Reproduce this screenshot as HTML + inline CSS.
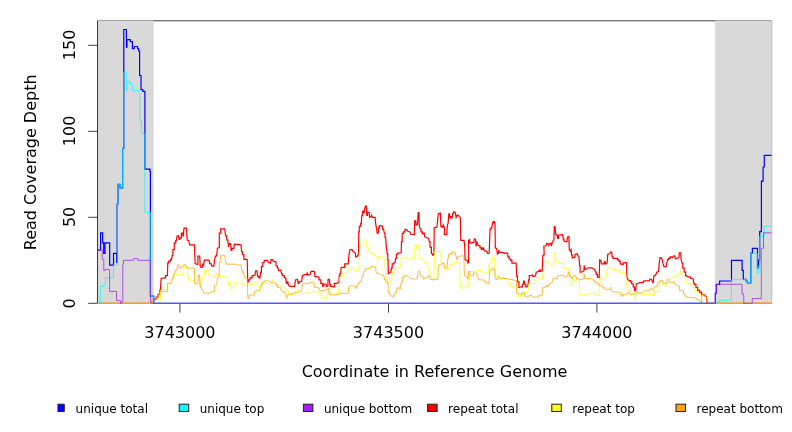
<!DOCTYPE html>
<html><head><meta charset="utf-8"><title>Read Coverage</title>
<style>
html,body{margin:0;padding:0;background:#fff;}
svg{display:block;}
text{font-family:"DejaVu Sans","Liberation Sans",sans-serif;fill:#000;}
.ax{font-size:16px;}
.lg{font-size:12px;}
.ln{fill:none;stroke-linejoin:miter;stroke-linecap:butt;}
</style></head><body>
<svg width="792" height="432" viewBox="0 0 792 432">
<rect x="0" y="0" width="792" height="432" fill="#fff"/>
<defs><clipPath id="cp"><rect x="97" y="20" width="675" height="284"/></clipPath></defs>
<!-- box top/right (grey) -->
<path d="M97.5,20.8 H771.6 V303.3" fill="none" stroke="#000" stroke-width="0.75"/>
<!-- grey flanking regions -->
<rect x="97.5" y="20.55" width="56.1" height="282.75" fill="#d9d9d9"/>
<rect x="715.1" y="20.55" width="56.75" height="282.75" fill="#d9d9d9"/>
<!-- axes -->
<g stroke="#000" stroke-width="0.75" fill="none">
<path d="M97.5,303.3 V20.8"/>
<path d="M97.5,303.3 H88.2 M97.5,217.3 H88.2 M97.5,131.3 H88.2 M97.5,45.3 H88.2"/>
</g>
<g stroke="#000" stroke-width="0.75" fill="none">
<path d="M179.9,303.3 V312.6 M388.5,303.3 V312.6 M596.9,303.3 V312.6"/>
</g>
<g clip-path="url(#cp)">
<path class="ln" d="M97.5,303.3 L153.5,303.2 L153.5,300.0 L155.6,299.3 L156.2,299.3 L156.2,297.2 L156.9,297.2 L158.0,297.2 L158.0,294.4 L159.0,294.4 L159.7,294.4 L159.7,290.3 L160.4,290.3 L161.1,278.5 L163.9,277.8 L165.6,277.8 L165.6,275.7 L167.4,275.7 L167.8,263.2 L167.8,262.9 L168.7,262.9 L168.7,261.2 L170.6,261.2 L170.6,259.4 L171.5,259.4 L172.2,255.3 L172.9,255.3 L172.9,249.7 L173.6,249.7 L174.3,249.7 L174.3,242.8 L175.0,242.8 L175.7,242.8 L175.7,240.7 L176.4,240.7 L177.1,235.8 L178.5,235.8 L179.2,239.3 L179.9,239.3 L179.9,237.9 L180.6,237.9 L181.4,237.9 L181.4,233.1 L182.2,233.1 L182.8,233.1 L182.8,235.8 L183.3,235.8 L184.0,228.2 L186.4,228.2 L187.2,240.0 L188.9,240.7 L189.6,244.9 L194.4,244.9 L195.1,263.6 L197.2,264.3 L197.9,264.3 L197.9,256.0 L198.6,256.0 L199.7,256.0 L200.3,267.1 L202.1,267.5 L202.8,263.6 L203.5,265.7 L204.4,260.1 L209.0,260.1 L209.7,263.6 L211.1,263.6 L211.8,266.1 L213.9,266.1 L214.6,259.4 L215.3,256.7 L216.0,256.7 L216.0,255.3 L216.7,255.3 L217.4,248.3 L218.8,247.6 L219.3,247.6 L219.3,233.1 L219.9,233.1 L220.7,233.1 L220.7,228.9 L221.5,228.9 L224.7,228.9 L225.7,235.8 L226.7,235.8 L226.7,240.0 L227.8,240.0 L228.5,246.9 L229.4,243.5 L230.6,243.5 L231.2,250.4 L231.9,250.4 L231.9,248.3 L232.6,248.3 L233.8,248.3 L234.4,244.2 L241.0,244.9 L241.7,251.8 L242.5,251.8 L242.5,254.6 L243.3,254.6 L243.9,254.6 L243.9,259.4 L244.4,259.4 L247.2,259.4 L247.6,275.0 L247.6,281.9 L248.5,281.9 L248.5,279.9 L249.3,279.9 L250.0,279.9 L250.0,277.8 L250.7,277.8 L252.1,277.8 L252.1,275.7 L253.5,275.7 L254.9,275.0 L255.8,270.8 L256.9,270.8 L257.6,276.4 L258.8,276.4 L258.8,277.8 L260.0,277.8 L260.7,272.2 L261.4,272.2 L261.4,266.7 L262.1,266.7 L262.8,266.7 L262.8,262.5 L263.5,262.5 L264.2,262.5 L264.2,260.4 L264.9,260.4 L267.6,260.4 L268.3,262.5 L270.4,263.2 L271.1,259.7 L272.5,259.7 L273.2,261.1 L275.3,261.8 L276.0,261.8 L276.0,266.0 L276.7,266.0 L277.4,266.0 L277.4,268.1 L278.1,268.1 L278.8,270.8 L280.8,270.1 L281.5,273.6 L282.2,273.6 L282.2,275.7 L282.9,275.7 L284.3,275.7 L284.3,277.8 L285.7,277.8 L286.4,283.3 L287.1,283.3 L287.1,281.9 L287.8,281.9 L288.5,285.4 L289.9,286.4 L294.7,286.4 L295.4,279.9 L297.5,279.4 L298.2,283.3 L298.9,283.3 L298.9,281.9 L299.6,281.9 L301.7,281.2 L302.4,275.7 L304.4,274.7 L306.5,274.7 L307.2,272.9 L307.9,275.0 L310.0,274.7 L310.7,271.9 L312.1,271.1 L314.4,271.5 L314.9,276.4 L318.3,277.1 L319.0,277.1 L319.0,279.9 L319.7,279.9 L320.8,279.9 L320.8,283.3 L321.8,283.3 L322.5,283.3 L322.5,286.1 L323.2,286.1 L323.9,286.1 L323.9,284.0 L324.6,284.0 L326.0,284.0 L326.7,286.4 L327.8,286.1 L328.1,279.4 L329.4,279.4 L329.9,284.7 L330.7,284.7 L330.7,286.4 L331.5,286.4 L333.6,286.8 L334.3,286.8 L334.3,283.3 L335.0,283.3 L337.1,283.3 L337.8,282.6 L338.9,282.6 L339.2,275.7 L339.9,275.7 L339.9,273.6 L340.6,273.6 L341.2,267.4 L344.0,267.4 L344.7,267.4 L344.7,263.9 L345.4,263.9 L348.2,263.9 L348.9,255.6 L349.2,252.8 L350.1,249.7 L352.2,249.7 L352.9,251.4 L354.3,252.1 L355.3,253.5 L355.7,256.9 L357.1,256.2 L357.8,256.2 L357.8,254.9 L358.5,254.9 L358.8,231.9 L359.3,231.9 L359.3,226.4 L359.9,226.4 L360.6,226.4 L360.6,223.6 L361.2,223.6 L361.9,215.3 L362.6,215.3 L362.6,211.1 L363.3,211.1 L364.0,213.2 L364.7,208.3 L365.4,206.2 L366.4,206.2 L366.8,215.3 L367.5,215.3 L367.5,212.5 L368.2,212.5 L369.2,212.5 L369.6,217.4 L371.0,216.7 L371.7,215.3 L372.4,217.4 L375.1,217.4 L375.8,225.0 L376.5,227.8 L377.2,233.3 L378.3,233.1 L378.6,227.8 L379.4,227.8 L379.4,225.7 L380.3,225.7 L381.7,226.1 L382.6,226.1 L382.6,229.2 L383.5,229.2 L384.4,233.3 L385.0,233.3 L385.0,237.5 L385.6,237.5 L386.2,245.8 L387.2,254.2 L387.8,254.2 L387.8,260.0 L388.3,260.0 L388.1,261.1 L388.3,273.6 L389.4,272.9 L390.8,272.2 L391.5,268.1 L392.2,268.1 L392.2,263.9 L392.9,263.9 L394.0,263.9 L394.0,262.5 L395.0,262.5 L395.7,258.3 L396.4,258.3 L396.4,254.2 L397.1,254.2 L397.8,254.2 L397.8,253.1 L398.5,253.1 L401.2,252.8 L401.5,241.7 L402.2,241.7 L402.2,233.3 L402.9,233.3 L403.6,233.3 L403.6,231.9 L404.3,231.9 L405.0,231.9 L405.0,229.4 L405.7,229.4 L407.1,229.9 L407.8,231.2 L409.9,231.9 L410.6,234.0 L413.3,234.7 L414.3,234.7 L414.7,220.8 L415.8,220.8 L416.1,225.0 L417.5,224.3 L418.2,212.5 L418.9,212.5 L419.3,225.7 L420.3,229.2 L421.0,229.2 L421.0,231.9 L421.7,231.9 L422.4,231.9 L422.4,234.0 L423.1,234.0 L424.2,233.3 L424.7,236.8 L426.5,237.5 L428.6,238.2 L429.3,241.7 L430.0,241.7 L430.0,247.2 L430.7,247.2 L431.4,247.2 L431.4,253.5 L432.1,253.5 L432.8,255.3 L433.9,254.9 L434.2,227.8 L436.9,227.1 L437.6,220.8 L438.3,213.9 L440.0,213.2 L440.4,213.2 L440.8,226.4 L442.5,227.1 L443.2,225.0 L443.9,227.1 L444.4,227.1 L444.4,234.7 L445.0,234.7 L446.7,234.7 L447.4,225.0 L448.1,223.6 L448.8,213.9 L449.4,213.9 L450.1,218.1 L450.8,218.1 L450.8,216.7 L451.5,216.7 L452.2,217.4 L452.9,213.2 L453.6,213.2 L453.6,211.8 L454.3,211.8 L455.3,212.5 L456.1,217.4 L457.1,215.3 L458.5,215.3 L459.2,216.7 L460.3,217.4 L460.8,240.3 L464.0,240.3 L464.7,245.8 L465.1,259.7 L467.2,260.4 L467.9,263.2 L468.6,262.5 L468.6,240.3 L469.6,239.6 L470.0,243.1 L473.8,242.4 L474.4,238.9 L475.6,239.6 L476.1,246.5 L476.9,241.7 L477.9,245.1 L479.3,245.8 L480.0,245.8 L480.0,247.9 L480.7,247.9 L481.4,247.9 L481.4,249.3 L482.1,249.3 L482.8,249.3 L482.8,247.9 L483.5,247.9 L484.2,250.7 L486.9,251.4 L487.6,253.5 L489.0,253.5 L489.4,247.2 L490.0,229.2 L490.9,229.2 L490.9,227.8 L491.8,227.8 L492.5,222.9 L493.2,222.9 L493.2,221.5 L493.9,221.5 L494.4,221.5 L494.4,222.9 L495.0,222.9 L495.3,247.9 L496.7,248.6 L497.4,254.2 L498.3,253.5 L498.8,250.0 L499.4,252.1 L502.9,252.5 L504.3,253.5 L506.1,252.8 L507.1,253.5 L507.8,253.5 L507.8,256.9 L508.5,256.9 L509.2,256.9 L509.2,259.0 L509.9,259.0 L510.6,259.0 L510.6,260.4 L511.2,260.4 L511.9,260.4 L511.9,263.2 L512.6,263.2 L516.1,263.2 L516.8,276.4 L517.5,276.4 L517.5,281.9 L518.2,281.9 L518.9,281.9 L518.9,287.5 L519.6,287.5 L521.7,286.8 L522.4,286.8 L522.4,284.0 L523.1,284.0 L523.6,284.0 L523.6,281.2 L524.2,281.2 L525.1,284.7 L525.8,284.7 L525.8,286.8 L526.5,286.8 L527.9,286.1 L528.6,279.9 L529.3,279.9 L529.3,275.7 L530.0,275.7 L532.1,275.0 L532.8,275.0 L532.8,276.4 L533.5,276.4 L535.6,275.7 L536.2,272.2 L538.3,271.5 L539.0,271.5 L539.0,270.1 L539.7,270.1 L540.4,270.1 L540.4,271.5 L541.1,271.5 L542.2,270.8 L542.8,255.6 L544.2,254.9 L543.9,246.1 L546.0,245.8 L546.7,243.3 L548.1,244.0 L548.8,245.4 L549.4,243.3 L550.8,243.3 L551.5,246.1 L552.2,242.6 L552.9,241.2 L553.9,239.9 L554.3,226.7 L555.0,226.4 L555.7,234.3 L557.1,235.0 L557.8,238.5 L558.5,238.5 L558.5,235.0 L559.2,235.0 L562.6,234.7 L563.3,239.2 L563.9,239.2 L563.9,241.2 L564.4,241.2 L566.8,241.7 L567.5,237.1 L568.9,236.4 L569.3,249.6 L570.3,251.0 L571.0,249.6 L571.7,255.1 L572.2,255.1 L572.2,257.9 L572.8,257.9 L574.4,257.2 L575.0,257.2 L575.0,254.4 L575.6,254.4 L577.2,253.8 L577.9,255.8 L578.9,256.5 L579.6,265.6 L580.1,265.6 L580.1,272.2 L580.7,272.2 L582.8,271.5 L583.9,270.8 L584.2,266.0 L584.7,266.0 L584.7,269.4 L585.3,269.4 L586.9,268.8 L588.3,267.8 L591.8,267.8 L593.2,268.8 L594.6,269.4 L595.6,272.2 L596.1,272.2 L596.1,274.3 L596.7,274.3 L597.4,274.3 L597.4,277.1 L598.1,277.1 L599.2,277.8 L599.7,259.7 L600.8,260.4 L601.5,263.9 L603.6,263.9 L604.2,263.9 L604.2,261.8 L604.7,261.8 L605.4,261.8 L605.4,263.9 L606.1,263.9 L607.1,263.2 L607.8,254.2 L609.9,253.5 L610.6,252.1 L611.7,252.1 L612.2,256.9 L613.1,256.9 L613.1,258.3 L614.0,258.3 L616.8,258.3 L617.5,258.3 L617.5,259.7 L618.2,259.7 L618.9,259.7 L618.9,261.1 L619.6,261.1 L620.3,261.1 L620.3,263.9 L621.0,263.9 L622.4,264.6 L623.1,264.6 L623.1,263.2 L623.8,263.2 L625.1,262.5 L626.5,262.8 L626.9,277.1 L627.9,279.9 L629.7,280.6 L630.4,280.6 L630.4,281.9 L631.1,281.9 L631.8,281.9 L631.8,284.0 L632.5,284.0 L633.3,284.0 L633.3,286.8 L634.2,286.8 L634.9,291.0 L635.8,290.3 L636.2,284.0 L638.3,283.3 L639.7,282.6 L643.2,282.6 L643.9,280.8 L649.4,280.6 L650.1,278.9 L651.5,279.4 L652.2,281.2 L652.8,281.2 L652.8,282.6 L653.3,282.6 L653.9,275.7 L655.7,275.0 L656.7,272.2 L658.5,271.5 L659.2,263.9 L659.9,257.6 L661.2,257.6 L662.2,259.7 L663.1,263.9 L664.0,266.7 L666.1,266.7 L666.8,263.2 L667.8,259.7 L668.5,259.7 L668.5,258.3 L669.2,258.3 L670.1,258.3 L670.1,256.9 L671.0,256.9 L672.4,257.6 L673.3,256.2 L674.7,255.8 L675.6,259.0 L677.2,258.3 L678.9,257.6 L679.3,252.8 L680.7,252.8 L681.1,259.7 L682.1,263.2 L682.8,263.2 L682.8,268.1 L683.5,268.1 L684.2,268.1 L684.2,272.2 L684.9,272.2 L685.6,272.2 L685.6,275.7 L686.2,275.7 L687.6,276.7 L690.0,277.1 L690.6,277.1 L690.6,278.5 L691.1,278.5 L693.2,278.9 L693.9,283.3 L694.6,283.3 L694.6,284.7 L695.3,284.7 L696.0,284.7 L696.0,287.5 L696.7,287.5 L697.7,287.5 L697.7,290.3 L698.8,290.3 L699.8,290.3 L699.8,292.4 L700.8,292.4 L701.5,292.4 L701.5,294.4 L702.2,294.4 L704.3,295.1 L705.3,295.1 L705.3,296.5 L706.4,296.5 L707.1,303.2 L771.5,303.3" stroke="#ff0000" stroke-width="1.2"/>
<path class="ln" d="M97.5,303.3 L160.4,303.2 L160.4,290.3 L161.1,289.6 L166.7,289.6 L167.4,284.0 L168.8,283.3 L169.4,279.9 L172.2,279.2 L172.9,276.4 L173.6,276.4 L173.6,274.3 L174.3,274.3 L182.6,274.3 L183.3,269.4 L184.0,269.4 L184.0,266.7 L184.7,266.7 L187.2,266.7 L187.8,275.7 L188.3,275.7 L188.3,279.2 L188.9,279.2 L189.9,279.2 L189.9,280.6 L191.0,280.6 L194.4,281.2 L195.1,283.3 L197.9,284.0 L201.4,284.0 L201.7,281.2 L202.2,281.2 L202.2,277.1 L202.8,277.1 L204.2,276.4 L204.6,270.6 L208.6,270.6 L209.0,275.0 L211.1,275.0 L211.8,277.4 L213.9,277.4 L214.6,277.4 L214.6,275.0 L215.3,275.0 L218.8,274.3 L219.4,276.4 L227.1,277.1 L227.8,281.9 L228.3,281.9 L228.3,286.1 L228.9,286.1 L229.4,282.6 L230.8,282.6 L231.7,289.6 L232.6,287.5 L234.0,287.5 L234.4,283.3 L236.8,282.6 L241.7,283.3 L242.4,283.3 L242.4,285.4 L243.1,285.4 L247.2,285.4 L248.6,284.7 L252.8,284.7 L253.5,283.3 L254.9,283.3 L254.9,282.2 L256.2,282.2 L257.6,282.6 L258.1,287.5 L260.0,286.8 L260.7,286.8 L260.7,284.7 L261.4,284.7 L262.1,284.7 L262.1,283.3 L262.8,283.3 L264.9,282.6 L266.9,283.3 L269.0,284.0 L271.1,284.0 L271.8,280.3 L272.8,280.3 L273.2,282.6 L275.3,283.1 L276.7,284.0 L277.7,284.0 L277.7,285.4 L278.8,285.4 L280.8,286.4 L282.9,287.2 L285.0,288.2 L286.0,288.2 L286.0,290.3 L287.1,290.3 L287.8,290.3 L287.8,291.7 L288.5,291.7 L289.2,294.7 L292.6,295.1 L295.4,294.7 L295.8,289.6 L298.2,289.6 L298.9,293.1 L301.7,293.3 L307.2,293.3 L307.9,291.7 L308.6,293.8 L311.4,293.3 L312.1,291.7 L318.3,291.9 L319.0,293.3 L321.1,294.2 L321.8,295.8 L322.5,298.6 L325.3,297.9 L326.3,297.9 L326.3,296.5 L327.4,296.5 L328.1,288.9 L328.8,288.2 L329.0,291.7 L329.8,291.7 L329.8,292.9 L331.4,292.9 L331.4,294.2 L332.2,294.2 L335.0,294.2 L335.7,293.1 L338.5,292.8 L339.2,284.0 L339.9,277.1 L341.9,276.4 L342.6,276.4 L342.6,273.6 L343.3,273.6 L346.8,272.9 L347.5,270.8 L348.2,270.8 L348.2,268.8 L348.9,268.8 L349.6,268.8 L349.6,267.4 L350.3,267.4 L353.3,267.4 L354.2,270.1 L355.8,271.1 L358.6,271.1 L359.2,261.1 L359.2,254.2 L359.9,245.8 L361.2,245.1 L361.9,245.1 L361.9,243.1 L362.6,243.1 L363.3,243.1 L363.3,240.3 L364.0,240.3 L365.4,239.6 L366.4,241.7 L366.8,247.9 L368.6,247.9 L369.2,252.1 L371.7,252.8 L372.4,254.2 L375.1,254.4 L375.8,256.9 L377.2,257.6 L377.9,260.0 L378.3,257.6 L379.0,256.2 L381.8,256.2 L382.5,257.6 L384.6,258.3 L385.3,270.8 L386.0,279.2 L387.0,279.2 L387.0,282.6 L388.1,282.6 L389.4,282.6 L391.1,281.9 L391.9,277.8 L392.9,270.8 L393.6,270.8 L393.6,272.2 L394.3,272.2 L395.0,270.8 L395.7,268.1 L399.9,268.1 L400.6,263.9 L401.2,263.9 L401.2,258.3 L401.9,258.3 L404.7,257.6 L406.8,257.6 L406.8,259.0 L408.9,259.0 L414.4,259.0 L415.0,244.7 L416.1,244.7 L416.4,248.6 L417.8,248.6 L418.2,244.7 L418.9,244.7 L419.3,256.9 L419.3,258.3 L422.8,259.0 L423.5,261.8 L427.6,262.5 L428.3,270.8 L429.0,270.8 L429.0,272.2 L429.7,272.2 L430.4,272.2 L430.4,273.6 L431.1,273.6 L431.8,278.5 L433.9,279.2 L434.6,251.4 L440.8,251.4 L441.1,263.2 L443.6,263.9 L444.3,268.1 L445.0,268.1 L445.0,269.4 L445.7,269.4 L447.8,269.2 L448.5,269.2 L448.5,268.1 L449.2,268.1 L449.4,264.6 L451.9,264.6 L452.6,264.6 L452.6,263.2 L453.3,263.2 L456.1,262.2 L459.6,262.5 L460.3,288.2 L467.2,287.5 L468.6,286.8 L468.9,271.5 L474.2,271.5 L475.6,270.8 L480.0,270.1 L480.7,270.1 L480.7,271.5 L481.4,271.5 L482.8,272.2 L488.3,272.2 L488.9,272.2 L488.9,263.2 L489.4,263.2 L490.6,263.2 L490.6,261.8 L491.8,261.8 L492.8,256.9 L493.9,256.2 L494.6,259.7 L495.0,275.0 L496.0,277.1 L497.0,277.1 L497.0,278.5 L498.1,278.5 L501.5,279.2 L505.7,278.9 L507.1,279.9 L507.8,281.9 L508.8,281.9 L508.8,284.0 L509.9,284.0 L510.9,284.0 L510.9,286.8 L511.9,286.8 L515.4,287.5 L516.4,290.3 L516.9,290.3 L516.9,293.8 L517.5,293.8 L518.5,293.8 L518.5,297.2 L519.6,297.2 L521.0,296.5 L521.7,294.4 L522.4,294.4 L522.4,293.1 L523.1,293.1 L527.9,292.4 L528.6,284.0 L532.1,283.3 L535.6,283.3 L536.2,277.8 L539.0,277.5 L539.7,279.2 L542.2,279.2 L542.8,272.9 L543.5,272.9 L543.5,261.8 L544.2,261.8 L548.1,261.8 L548.8,263.9 L550.8,263.9 L551.5,266.0 L553.6,265.3 L554.3,252.8 L555.3,252.8 L555.7,260.4 L556.7,260.4 L556.7,261.8 L557.8,261.8 L558.8,261.8 L558.8,263.2 L559.9,263.2 L563.3,263.2 L564.0,268.1 L568.9,268.8 L569.6,274.3 L570.3,274.3 L570.3,276.4 L571.0,276.4 L571.7,285.4 L573.1,285.4 L573.3,280.6 L575.8,281.2 L579.3,281.2 L580.0,295.1 L585.6,294.7 L586.9,294.2 L590.0,293.8 L592.5,293.1 L593.9,293.8 L595.3,293.8 L595.3,295.1 L596.7,295.1 L598.8,295.6 L599.7,286.1 L600.1,277.8 L600.8,279.9 L602.9,279.9 L604.0,279.9 L604.0,277.8 L605.0,277.8 L605.7,277.8 L605.7,275.7 L606.4,275.7 L607.1,268.8 L608.5,267.8 L613.3,268.3 L613.9,268.3 L613.9,270.1 L614.4,270.1 L618.2,270.6 L618.9,270.6 L618.9,272.2 L619.6,272.2 L624.4,272.9 L625.1,272.9 L625.1,274.3 L625.8,274.3 L626.5,286.1 L627.2,286.1 L627.2,289.6 L627.9,289.6 L629.0,289.6 L629.0,291.0 L630.0,291.0 L631.0,291.0 L631.0,292.4 L632.1,292.4 L632.8,292.4 L632.8,293.8 L633.5,293.8 L634.9,294.4 L635.3,300.7 L635.8,295.8 L637.6,295.1 L638.3,293.3 L641.1,294.2 L653.6,294.4 L653.9,295.8 L654.4,295.8 L654.4,291.7 L655.0,291.7 L659.2,291.4 L659.4,281.9 L661.9,281.7 L662.6,285.4 L664.7,284.7 L665.3,284.7 L665.3,286.8 L665.8,286.8 L666.8,284.7 L667.2,279.9 L668.9,279.4 L670.3,278.5 L671.3,278.5 L671.3,277.1 L672.4,277.1 L675.8,276.7 L676.5,276.7 L676.5,275.3 L677.2,275.3 L679.3,274.7 L680.3,270.8 L680.8,270.8 L680.8,274.3 L681.4,274.3 L682.8,275.0 L683.5,275.0 L683.5,277.8 L684.2,277.8 L685.2,277.8 L685.2,282.6 L686.2,282.6 L688.3,283.3 L690.0,283.3 L690.6,283.3 L690.6,284.7 L691.1,284.7 L693.2,285.4 L693.9,288.2 L694.9,288.2 L694.9,290.3 L696.0,290.3 L696.7,290.3 L696.7,292.4 L697.4,292.4 L698.1,292.4 L698.1,293.8 L698.8,293.8 L699.8,293.8 L699.8,295.1 L700.8,295.1 L701.4,295.1 L701.4,300.0 L701.9,300.0 L702.2,303.2 L771.5,303.3" stroke="#ffff00" stroke-width="0.75"/>
<path class="ln" d="M97.5,303.3 L151.4,303.2 L151.7,298.6 L152.8,298.6 L153.1,302.1 L153.5,300.0 L155.6,299.3 L156.2,299.3 L156.2,297.2 L156.9,297.2 L158.0,297.2 L158.0,294.4 L159.0,294.4 L159.7,294.4 L159.7,291.7 L160.4,291.7 L167.4,291.7 L167.4,283.3 L171.5,283.3 L172.2,278.5 L173.3,278.5 L173.3,275.0 L174.3,275.0 L175.0,270.8 L176.0,270.8 L176.0,269.4 L177.1,269.4 L177.8,264.6 L178.8,264.6 L179.2,268.1 L181.2,268.1 L181.2,266.7 L183.3,266.7 L184.0,264.6 L185.4,264.6 L185.8,266.7 L186.7,266.7 L186.7,268.1 L187.5,268.1 L194.4,268.1 L194.7,283.3 L197.9,283.3 L198.6,275.0 L199.6,275.0 L200.0,284.0 L200.7,287.5 L201.7,287.5 L201.7,289.6 L202.8,289.6 L203.5,293.1 L210.4,293.1 L211.1,291.7 L214.2,291.7 L214.6,285.4 L216.7,284.7 L217.4,277.8 L219.0,277.1 L219.4,262.5 L220.3,262.5 L220.3,255.6 L221.1,255.6 L224.7,255.6 L225.7,262.5 L226.4,262.5 L226.4,264.2 L227.1,264.2 L236.1,264.2 L237.5,265.0 L241.0,265.0 L241.7,270.8 L242.7,270.8 L242.7,272.9 L243.8,272.9 L244.4,277.1 L247.2,277.8 L247.9,298.6 L248.9,298.6 L249.3,295.1 L254.2,295.1 L254.9,291.0 L260.0,290.3 L260.7,286.8 L261.4,286.8 L261.4,284.0 L262.1,284.0 L263.1,284.0 L263.1,281.7 L264.2,281.7 L265.2,281.7 L265.2,280.3 L266.2,280.3 L268.3,281.2 L270.4,282.2 L273.2,282.2 L274.6,283.1 L276.0,283.3 L276.7,286.1 L277.7,286.1 L277.7,287.5 L278.8,287.5 L280.8,288.2 L281.5,291.0 L282.9,291.7 L284.3,291.7 L284.3,293.1 L285.7,293.1 L286.4,297.9 L287.1,297.9 L287.1,295.8 L287.8,295.8 L288.5,294.2 L291.9,294.2 L292.6,294.2 L292.6,293.1 L293.3,293.1 L295.4,292.4 L298.2,292.4 L298.9,291.4 L301.7,291.0 L302.4,284.0 L304.4,283.3 L309.3,283.3 L310.0,282.2 L313.9,281.9 L314.4,287.2 L319.0,287.8 L319.7,290.3 L324.6,290.6 L326.0,289.6 L328.1,288.9 L328.8,288.2 L329.4,294.4 L332.2,295.1 L337.8,294.4 L338.8,294.4 L338.8,293.3 L339.9,293.3 L348.2,293.3 L348.9,286.4 L351.0,285.8 L354.4,285.8 L355.1,285.8 L355.1,288.2 L355.8,288.2 L356.5,288.2 L356.5,286.4 L357.2,286.4 L357.9,286.4 L357.9,283.3 L358.6,283.3 L359.2,283.3 L359.2,281.9 L359.7,281.9 L361.4,281.7 L362.1,275.7 L363.5,275.0 L363.9,272.2 L364.9,270.8 L365.6,270.8 L365.6,268.8 L366.2,268.8 L370.0,268.1 L370.7,268.1 L370.7,266.7 L371.4,266.7 L375.6,266.7 L376.2,272.9 L379.0,273.6 L380.4,274.3 L381.8,275.0 L383.9,275.7 L384.6,279.9 L385.6,279.9 L385.6,281.9 L386.7,281.9 L387.4,281.9 L387.4,283.3 L388.1,283.3 L388.3,292.4 L389.6,292.4 L389.6,294.2 L390.8,294.2 L391.5,296.5 L392.9,297.2 L393.6,297.2 L393.6,295.1 L394.3,295.1 L395.0,295.1 L395.0,292.4 L395.7,292.4 L396.4,292.4 L396.4,288.9 L397.1,288.9 L397.8,288.9 L397.8,287.5 L398.5,287.5 L399.2,287.5 L399.2,288.9 L399.9,288.9 L400.6,288.9 L400.6,284.7 L401.2,284.7 L401.9,281.2 L402.6,281.2 L402.6,277.1 L403.3,277.1 L404.4,277.1 L404.4,275.7 L405.4,275.7 L406.4,275.0 L406.9,275.0 L406.9,276.4 L407.5,276.4 L409.6,277.1 L410.3,278.5 L414.4,279.2 L417.2,278.9 L417.9,272.2 L418.9,270.8 L419.7,272.2 L420.3,275.7 L422.8,276.4 L423.5,279.2 L424.2,279.2 L424.2,277.8 L424.9,277.8 L427.6,277.8 L428.3,275.7 L429.4,275.7 L430.0,279.2 L432.5,279.9 L436.7,279.4 L437.4,279.4 L437.4,277.8 L438.1,277.8 L438.3,268.1 L438.9,268.1 L438.9,264.6 L439.4,264.6 L442.2,263.9 L442.8,263.9 L442.8,262.5 L443.3,262.5 L444.3,264.6 L445.0,268.1 L447.1,268.1 L447.8,258.3 L448.5,258.3 L448.5,254.2 L449.2,254.2 L449.9,253.1 L450.6,253.1 L450.6,254.2 L451.2,254.2 L452.3,254.2 L452.3,252.1 L453.3,252.1 L455.0,252.1 L455.8,255.6 L456.8,259.7 L457.5,259.7 L457.5,256.9 L458.2,256.9 L460.3,256.2 L462.4,255.6 L463.8,256.2 L464.4,275.7 L467.2,276.4 L467.9,279.2 L468.6,271.5 L469.7,271.5 L470.0,275.7 L472.8,275.7 L473.5,275.7 L473.5,272.9 L474.2,272.9 L476.2,272.9 L476.9,272.9 L476.9,275.7 L477.6,275.7 L478.6,279.9 L480.0,279.9 L484.2,279.9 L484.9,281.9 L486.2,281.9 L486.2,283.3 L487.6,283.3 L489.0,284.0 L489.7,270.8 L490.8,270.8 L490.8,269.4 L491.8,269.4 L492.9,269.4 L492.9,268.1 L493.9,268.1 L494.6,269.4 L495.3,279.2 L497.4,279.9 L498.1,276.4 L499.4,276.4 L500.1,278.5 L502.2,278.5 L502.9,277.1 L503.6,278.5 L507.1,278.5 L509.9,279.2 L513.3,279.9 L516.4,280.6 L516.8,293.1 L518.9,293.8 L521.0,294.4 L521.7,294.4 L521.7,293.1 L522.4,293.1 L524.2,292.4 L525.1,296.5 L528.6,297.2 L529.3,295.6 L532.1,295.6 L532.8,297.2 L538.3,297.2 L539.0,295.1 L540.4,295.8 L542.2,295.1 L542.8,287.5 L545.3,287.2 L545.8,287.2 L545.8,285.4 L546.4,285.4 L547.2,285.4 L547.2,286.8 L548.1,286.8 L548.8,284.7 L549.4,284.7 L549.4,283.3 L550.1,283.3 L552.2,282.6 L552.9,278.5 L555.7,277.8 L556.4,279.2 L557.4,279.2 L557.4,275.7 L558.5,275.7 L564.0,275.3 L564.7,277.1 L566.8,277.1 L567.8,274.3 L568.3,274.3 L568.3,272.2 L568.9,272.2 L569.6,276.4 L571.7,277.1 L572.4,279.2 L573.3,275.7 L575.8,275.7 L576.5,279.2 L577.2,277.8 L577.8,277.8 L577.8,279.2 L578.3,279.2 L579.3,279.9 L582.8,279.2 L583.9,278.5 L584.2,274.3 L584.9,278.5 L590.0,278.5 L592.5,278.9 L593.2,278.9 L593.2,280.3 L593.9,280.3 L594.6,280.3 L594.6,282.2 L595.3,282.2 L596.7,282.2 L596.7,283.3 L598.1,283.3 L598.8,283.3 L598.8,285.4 L599.4,285.4 L602.2,286.1 L602.9,286.1 L602.9,287.8 L603.6,287.8 L604.7,287.8 L604.7,289.2 L605.7,289.2 L609.9,289.6 L610.8,287.2 L611.7,291.7 L616.1,291.9 L619.6,292.4 L620.3,292.4 L620.3,294.4 L621.0,294.4 L621.7,294.4 L621.7,296.1 L622.4,296.1 L623.1,296.1 L623.1,294.4 L623.8,294.4 L627.2,294.2 L627.9,292.4 L629.3,293.1 L630.0,293.1 L630.0,294.4 L630.7,294.4 L633.5,294.2 L635.6,293.3 L636.2,293.3 L636.2,291.4 L636.9,291.4 L637.6,291.4 L637.6,293.1 L638.3,293.1 L642.5,292.8 L643.2,291.0 L649.4,290.6 L650.1,288.9 L651.5,288.6 L652.2,290.3 L653.6,290.0 L654.3,286.8 L657.1,286.4 L657.8,282.6 L659.4,282.2 L659.9,280.6 L662.6,280.6 L663.3,283.3 L666.8,283.3 L667.5,279.9 L668.9,279.4 L669.6,282.6 L674.4,282.2 L675.1,284.7 L677.2,285.4 L678.9,286.1 L679.4,286.1 L679.4,290.3 L680.0,290.3 L682.8,291.0 L683.5,291.0 L683.5,293.8 L684.2,293.8 L684.9,293.8 L684.9,295.8 L685.6,295.8 L686.2,295.8 L686.2,297.2 L686.9,297.2 L690.0,297.2 L690.4,297.5 L696.0,297.9 L696.7,299.3 L698.8,300.0 L699.4,300.0 L699.4,301.4 L700.1,301.4 L700.8,301.4 L700.8,302.5 L701.5,302.5 L701.9,294.7 L704.3,295.1 L705.3,295.1 L705.3,296.5 L706.4,296.5 L707.1,303.2 L771.5,303.3" stroke="#ffa500" stroke-width="0.75"/>
<path class="ln" d="M97.5,250.0 L100.6,250.0 L100.6,232.9 L102.6,232.9 L102.6,242.9 L103.7,242.9 L103.7,253.3 L105.0,253.3 L105.0,242.9 L109.7,242.9 L109.7,265.2 L113.5,265.2 L113.5,253.3 L116.6,253.3 L116.6,262.3 L117.1,262.3 L117.1,204.0 L118.0,204.0 L118.0,184.4 L119.9,184.4 L119.9,187.9 L122.6,187.9 L122.6,148.3 L123.8,148.3 L123.8,29.5 L126.4,29.5 L126.4,47.2 L127.0,47.2 L127.0,39.6 L130.3,39.6 L130.3,41.7 L132.4,41.7 L132.4,48.6 L134.2,48.6 L134.2,46.5 L137.6,46.5 L137.6,48.6 L138.6,48.6 L138.6,51.0 L139.6,51.0 L139.6,75.5 L141.0,75.5 L141.0,89.7 L142.8,89.7 L142.8,91.4 L144.9,91.4 L144.9,169.2 L149.9,169.2 L149.9,171.2 L150.4,171.2 L150.4,296.2 L153.8,296.2 L153.8,303.3 L715.3,303.3 L715.3,293.4 L716.3,293.4 L716.3,284.3 L719.6,284.3 L719.6,281.0 L731.5,281.0 L731.5,260.3 L742.1,260.3 L742.1,270.3 L743.3,270.3 L743.3,279.4 L746.0,279.4 L746.0,281.0 L747.3,281.0 L747.3,283.0 L750.8,283.0 L750.8,253.2 L752.4,253.2 L752.4,248.3 L757.5,248.3 L757.5,267.8 L758.6,267.8 L758.6,260.1 L759.7,260.1 L759.7,231.7 L761.4,231.7 L761.4,181.2 L763.1,181.2 L763.1,167.0 L764.3,167.0 L764.3,155.3 L771.5,155.3" stroke="#0000ff" stroke-width="1.2"/>
<path class="ln" d="M97.5,303.3 L100.3,303.3 L100.3,286.3 L104.2,286.3 L104.2,283.2 L105.5,283.2 L105.5,277.6 L113.5,277.6 L113.5,265.2 L117.3,265.2 L117.3,204.0 L118.0,204.0 L118.0,184.4 L119.9,184.4 L119.9,187.9 L122.6,187.9 L122.6,148.3 L123.8,148.3 L123.8,72.1 L126.4,72.1 L126.4,90.4 L127.0,90.4 L127.0,82.1 L130.3,82.1 L130.3,84.2 L132.4,84.2 L132.4,90.8 L138.6,90.8 L138.6,93.2 L139.7,93.2 L139.7,120.3 L141.4,120.3 L141.4,132.8 L143.5,132.8 L143.5,134.2 L144.9,134.2 L144.9,212.4 L150.3,212.4 L150.3,296.2 L153.8,296.2 L153.8,303.3 L717.1,303.3 L717.1,302.0 L719.4,302.0 L719.4,300.3 L731.4,300.3 L731.4,279.6 L743.3,279.6 L746.0,279.4 L746.0,281.0 L747.3,281.0 L747.3,283.0 L750.8,283.0 L750.8,253.2 L757.2,253.2 L757.2,273.3 L758.6,273.3 L758.6,265.7 L759.7,265.7 L759.7,236.5 L764.2,236.5 L764.2,226.1 L771.4,226.1" stroke="#00ffff" stroke-width="0.75"/>
<path class="ln" d="M97.5,250.0 L102.3,250.0 L102.3,259.4 L103.8,259.4 L103.8,270.6 L105.2,270.6 L105.2,269.4 L109.6,269.4 L109.6,291.4 L116.5,291.4 L116.5,300.4 L120.4,300.4 L120.4,303.3 L121.7,303.3 L121.7,301.7 L122.8,301.7 L122.8,264.2 L123.5,264.2 L123.5,260.3 L133.6,260.3 L133.6,258.5 L137.7,258.5 L137.7,260.3 L150.4,260.3 L150.4,302.5 L151.5,302.5 L151.5,303.3 L715.3,303.3 L715.3,293.4 L716.3,293.4 L716.3,284.3 L742.1,284.3 L742.1,294.0 L743.6,294.0 L743.6,295.7 L743.8,295.7 L743.8,303.3 L752.3,303.3 L752.3,298.5 L761.3,298.5 L761.3,248.3 L763.5,248.3 L763.5,232.8 L771.4,232.8" stroke="#a020f0" stroke-width="0.75"/>
</g>
<!-- y tick labels -->
<g class="ax" text-anchor="middle">
<text transform="translate(74.7,303.5) rotate(-90)">0</text>
<text transform="translate(74.7,216.9) rotate(-90)">50</text>
<text transform="translate(74.7,130.9) rotate(-90)">100</text>
<text transform="translate(74.7,44.9) rotate(-90)">150</text>
<text transform="translate(35.7,162.3) rotate(-90)">Read Coverage Depth</text>
<text x="179.9" y="338">3743000</text>
<text x="388.5" y="338">3743500</text>
<text x="596.9" y="338">3744000</text>
<text x="434.5" y="377">Coordinate in Reference Genome</text>
</g>
<!-- legend -->
<g class="lg">
<g stroke="#222" stroke-width="1">
<path d="M57.5,404.2 H64.3 V411.5 H57.5 Z" fill="#0000ff" stroke="none"/>
<path d="M57.5,404.2 H64.3 V411.5 H57.5" fill="none"/>
<rect x="179.2" y="404.2" width="9.5" height="7.3" fill="#00ffff"/>
<rect x="303.4" y="404.2" width="9.5" height="7.3" fill="#a020f0"/>
<rect x="427.6" y="404.2" width="9.5" height="7.3" fill="#ff0000"/>
<rect x="551.8" y="404.2" width="9.5" height="7.3" fill="#ffff00"/>
<rect x="676.0" y="404.2" width="9.5" height="7.3" fill="#ffa500"/>
</g>
<text x="75.6" y="412.5">unique total</text>
<text x="199.7" y="412.5">unique top</text>
<text x="323.9" y="412.5">unique bottom</text>
<text x="448.1" y="412.5">repeat total</text>
<text x="572.3" y="412.5">repeat top</text>
<text x="696.5" y="412.5">repeat bottom</text>
</g>
</svg>
</body></html>
